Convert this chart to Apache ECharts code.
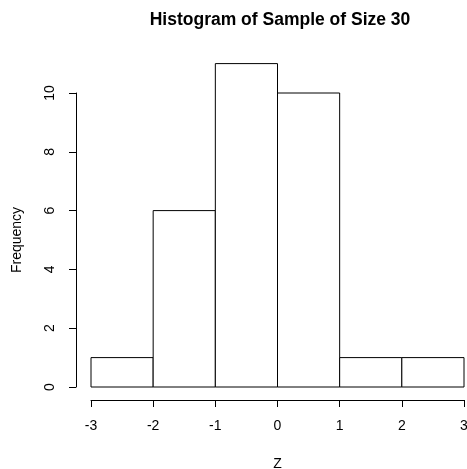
<!DOCTYPE html>
<html>
<head>
<meta charset="utf-8">
<script src="https://cdn.jsdelivr.net/npm/echarts@6/dist/echarts.min.js"></script>
<style>
  html, body { margin: 0; padding: 0; background: #fff; }
  #chart { width: 467px; height: 469px; }
</style>
</head>
<body>
<div id="chart"></div>
<script>
// histogram bins (break points) and counts per bin
const breaks = [-3, -2, -1, 0, 1, 2, 3];
const counts = [1, 6, 11, 10, 1, 1];
const xTicks = [-3, -2, -1, 0, 1, 2, 3];
const yTicks = [0, 2, 4, 6, 8, 10];

const bins = counts.map((c, i) => [breaks[i], breaks[i + 1], c]);
const font = 'Liberation Sans, Arial, sans-serif';

const chart = echarts.init(document.getElementById('chart'));
chart.setOption({
  animation: false,
  backgroundColor: '#fff',
  title: {
    text: 'Histogram of Sample of Size 30',
    left: 275,
    top: 6,
    textAlign: 'center',
    textStyle: { fontFamily: font, fontSize: 17.5, fontWeight: 'bold', color: '#000' }
  },
  grid: { left: 91, right: 3, top: 93, bottom: 82, outerBoundsMode: 'none', containLabel: false },
  xAxis: {
    type: 'value',
    min: xTicks[0],
    max: xTicks[xTicks.length - 1],
    interval: 1,
    offset: 13,
    name: 'Z',
    nameLocation: 'middle',
    nameGap: 57,
    nameTextStyle: { fontFamily: font, fontSize: 14, color: '#000' },
    axisLine: { show: true, onZero: false, lineStyle: { color: '#000', width: 1 } },
    axisTick: { show: true, length: 7, lineStyle: { color: '#000' } },
    axisLabel: { fontFamily: font, fontSize: 14, color: '#000', margin: 19 },
    splitLine: { show: false }
  },
  yAxis: {
    type: 'value',
    min: yTicks[0],
    max: yTicks[yTicks.length - 1],
    interval: 2,
    offset: 15,
    name: 'Frequency',
    nameLocation: 'middle',
    nameRotate: 90,
    nameGap: 52,
    nameTextStyle: { fontFamily: font, fontSize: 14, color: '#000' },
    axisLine: { show: true, onZero: false, lineStyle: { color: '#000', width: 1 } },
    axisTick: { show: true, length: 7, lineStyle: { color: '#000' } },
    axisLabel: { fontFamily: font, fontSize: 14, color: '#000', rotate: 90, margin: 19 },
    splitLine: { show: false }
  },
  series: [{
    type: 'custom',
    clip: false,
    data: bins,
    renderItem: function (params, api) {
      const p0 = api.coord([api.value(0), api.value(2)]);
      const p1 = api.coord([api.value(1), 0]);
      return {
        type: 'rect',
        shape: { x: p0[0], y: p0[1], width: p1[0] - p0[0], height: p1[1] - p0[1] },
        style: { fill: '#fff', stroke: '#000', lineWidth: 1 }
      };
    }
  }]
});
</script>
</body>
</html>
